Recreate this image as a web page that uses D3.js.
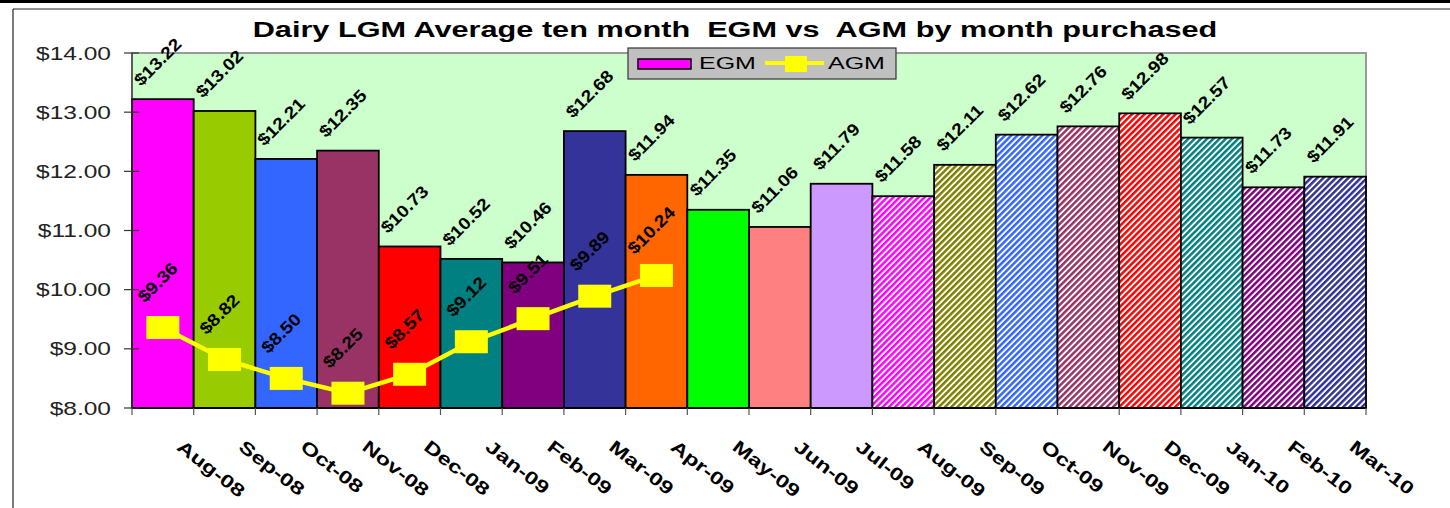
<!DOCTYPE html>
<html>
<head>
<meta charset="utf-8">
<script src="https://cdn.jsdelivr.net/npm/d3@7"></script>
<style>
  body { margin: 0; background: #fff; }
  svg { display: block; font-family: "Liberation Sans", Arial, sans-serif; }
</style>
</head>
<body>
<svg id="chart" width="1450" height="508"></svg>
<script>
// months purchased
const months = ["Aug-08", "Sep-08", "Oct-08", "Nov-08", "Dec-08", "Jan-09", "Feb-09",
  "Mar-09", "Apr-09", "May-09", "Jun-09", "Jul-09", "Aug-09", "Sep-09", "Oct-09",
  "Nov-09", "Dec-09", "Jan-10", "Feb-10", "Mar-10"];
const egm = [13.22, 13.02, 12.21, 12.35, 10.73, 10.52, 10.46, 12.68, 11.94, 11.35,
  11.06, 11.79, 11.58, 12.11, 12.62, 12.76, 12.98, 12.57, 11.73, 11.91];
const agmMonths = ["Aug-08", "Sep-08", "Oct-08", "Nov-08", "Dec-08", "Jan-09", "Feb-09", "Mar-09", "Apr-09"];
const agm = [9.36, 8.82, 8.50, 8.25, 8.57, 9.12, 9.51, 9.89, 10.24];
const barColors = ["#FF00FF", "#99CC00", "#3366FF", "#993366", "#FF0000", "#008080", "#800080",
  "#333399", "#FF6600", "#00FF00", "#FF8080", "#CC99FF", "#FF00FF", "#808000", "#3366FF",
  "#993366", "#FF0000", "#008080", "#800080", "#333399"];
const hatched = [false, false, false, false, false, false, false, false, false, false, false, false,
  true, true, true, true, true, true, true, true];
const yTicks = [8, 9, 10, 11, 12, 13, 14];
const title = "Dairy LGM Average ten month  EGM vs  AGM by month purchased";

const svg = d3.select("#chart");
const plot = { left: 132, right: 1366, top: 53, bottom: 408 };

const x = d3.scaleBand().domain(months).range([plot.left, plot.right]).padding(0);
const y = d3.scaleLinear().domain([8, 14]).range([plot.bottom, plot.top]);
const fmt = d => "$" + d3.format(".2f")(d);
const cx = m => x(m) + x.bandwidth() / 2;

// the source renders its text wide; work out a horizontal stretch per text style
function stretchFor(sample, size, weight, target) {
  const t = svg.append("text").attr("font-size", size).attr("font-weight", weight)
    .style("white-space", "pre").text(sample);
  const len = t.node().getComputedTextLength();
  t.remove();
  return target / len;
}
const sTitle = stretchFor(title, 22, "bold", 965);
const sYTick = stretchFor("$14.00", 17.5, "normal", 75);
const sCat = stretchFor("Aug-08", 18, "bold", 80);
const sVal = stretchFor("$13.22", 17, "bold", 59);
const sLeg = stretchFor("EGM", 17, "normal", 57);

// hatch patterns for the second year
const defs = svg.append("defs");
barColors.forEach((c, i) => {
  if (!hatched[i]) return;
  const p = defs.append("pattern")
    .attr("id", "hatch" + i)
    .attr("patternUnits", "userSpaceOnUse")
    .attr("width", 4.4).attr("height", 4.4)
    .attr("patternTransform", "rotate(45)");
  p.append("rect").attr("width", 4.4).attr("height", 4.4).attr("fill", "#fff");
  p.append("rect").attr("width", 2.5).attr("height", 4.4).attr("fill", c);
});

// frame
svg.append("rect").attr("x", 0).attr("y", 0).attr("width", 1450).attr("height", 3).attr("fill", "#000");
svg.append("line").attr("x1", 13).attr("x2", 1450).attr("y1", 9).attr("y2", 9)
  .attr("stroke", "#222").attr("stroke-width", 1.2);
svg.append("line").attr("x1", 13).attr("x2", 13).attr("y1", 9).attr("y2", 508)
  .attr("stroke", "#222").attr("stroke-width", 1.2);

// plot area
svg.append("rect")
  .attr("x", plot.left).attr("y", plot.top)
  .attr("width", plot.right - plot.left).attr("height", plot.bottom - plot.top)
  .attr("fill", "#CCFFCC").attr("stroke", "#999").attr("stroke-width", 2);

// title
svg.append("text")
  .attr("transform", `translate(735,37) scale(${sTitle},1)`)
  .attr("text-anchor", "middle")
  .attr("font-size", 22).attr("font-weight", "bold")
  .style("white-space", "pre")
  .text(title);

// bars
svg.append("g").selectAll("rect")
  .data(months)
  .join("rect")
  .attr("x", d => x(d))
  .attr("width", x.bandwidth())
  .attr("y", (d, i) => y(egm[i]))
  .attr("height", (d, i) => y(8) - y(egm[i]))
  .attr("fill", (d, i) => hatched[i] ? `url(#hatch${i})` : barColors[i])
  .attr("stroke", "#000").attr("stroke-width", 1.8);

// axes
svg.append("line").attr("x1", plot.left).attr("x2", plot.left).attr("y1", plot.top).attr("y2", plot.bottom)
  .attr("stroke", "#333").attr("stroke-width", 1.2);
svg.append("line").attr("x1", plot.left).attr("x2", plot.right).attr("y1", plot.bottom).attr("y2", plot.bottom)
  .attr("stroke", "#000").attr("stroke-width", 1.5);

const yAxis = svg.append("g");
yAxis.selectAll("line").data(yTicks).join("line")
  .attr("x1", 124).attr("x2", 139).attr("y1", d => y(d)).attr("y2", d => y(d))
  .attr("stroke", "#333").attr("stroke-width", 1.2);
yAxis.selectAll("text").data(yTicks).join("text")
  .attr("transform", d => `translate(111,${y(d) + 6.5}) scale(${sYTick},1)`)
  .attr("text-anchor", "end")
  .attr("font-size", 17.5).attr("fill", "#222")
  .text(d => fmt(d));

const xEdges = months.map(m => x(m)).concat([plot.right]);
svg.append("g").selectAll("line").data(xEdges).join("line")
  .attr("x1", d => d).attr("x2", d => d).attr("y1", plot.bottom).attr("y2", plot.bottom + 7)
  .attr("stroke", "#555").attr("stroke-width", 1.2);

svg.append("g").selectAll("text").data(months).join("text")
  .attr("transform", d => `translate(${cx(d) + 13},449) rotate(38) scale(${sCat},1)`)
  .attr("font-size", 18).attr("font-weight", "bold")
  .text(d => d);

// AGM line
const line = d3.line().x((d, i) => cx(agmMonths[i])).y(d => y(d));
svg.append("path")
  .datum(agm)
  .attr("d", line)
  .attr("fill", "none").attr("stroke", "#FFFF00").attr("stroke-width", 4.5);
svg.append("g").selectAll("rect").data(agm).join("rect")
  .attr("x", (d, i) => cx(agmMonths[i]) - 16.5)
  .attr("y", d => y(d) - 11.5)
  .attr("width", 33).attr("height", 23)
  .attr("fill", "#FFFF00");

// value labels
svg.append("g").selectAll("text").data(egm).join("text")
  .attr("transform", (d, i) => `translate(${cx(months[i]) - 5},${y(d) - 37}) rotate(-45) scale(${sVal},1)`)
  .attr("text-anchor", "middle").attr("dominant-baseline", "central")
  .attr("font-size", 17).attr("font-weight", "bold")
  .text(d => fmt(d));
svg.append("g").selectAll("text").data(agm).join("text")
  .attr("transform", (d, i) => `translate(${cx(agmMonths[i]) - 5},${y(d) - 45}) rotate(-45) scale(${sVal},1)`)
  .attr("text-anchor", "middle").attr("dominant-baseline", "central")
  .attr("font-size", 17).attr("font-weight", "bold")
  .text(d => fmt(d));

// legend
const legend = svg.append("g");
legend.append("rect").attr("x", 628).attr("y", 48).attr("width", 268).attr("height", 31)
  .attr("fill", "#C0C0C0").attr("stroke", "#333").attr("stroke-width", 1.2);
legend.append("rect").attr("x", 638).attr("y", 59).attr("width", 53).attr("height", 10)
  .attr("fill", barColors[0]).attr("stroke", "#000").attr("stroke-width", 1.5);
legend.append("text").attr("transform", `translate(699,69) scale(${sLeg},1)`)
  .attr("font-size", 17).text("EGM");
legend.append("line").attr("x1", 765).attr("x2", 824).attr("y1", 63).attr("y2", 63)
  .attr("stroke", "#FFFF00").attr("stroke-width", 4);
legend.append("rect").attr("x", 785).attr("y", 56).attr("width", 22).attr("height", 16)
  .attr("fill", "#FFFF00");
legend.append("text").attr("transform", `translate(828,69) scale(${sLeg},1)`)
  .attr("font-size", 17).text("AGM");
</script>
</body>
</html>
